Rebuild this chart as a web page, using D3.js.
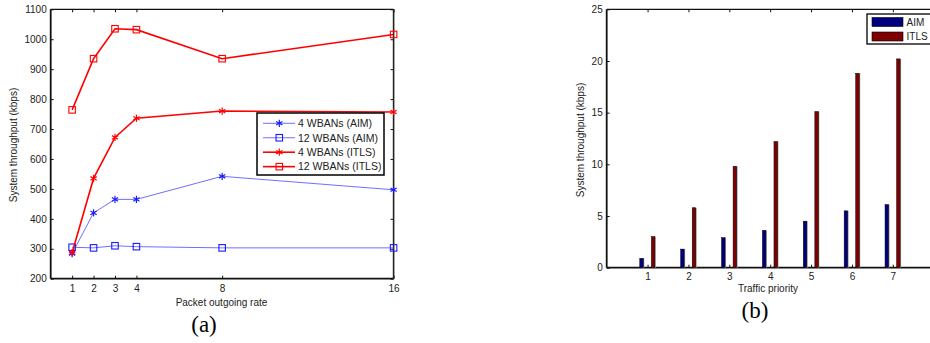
<!DOCTYPE html>
<html>
<head>
<meta charset="utf-8">
<script src="https://cdn.jsdelivr.net/npm/d3@7"></script>
<style>
  html, body { margin: 0; padding: 0; background: #fff; }
  svg { display: block; }
  .tick text { font-family: "Liberation Sans", Arial, sans-serif; font-size: 10px; fill: #222; }
  .lbl { font-family: "Liberation Sans", Arial, sans-serif; font-size: 10px; fill: #222; }
  .cap { font-family: "Liberation Serif", "Times New Roman", serif; font-size: 23px; fill: #000; }
</style>
</head>
<body>
<svg id="fig" width="930" height="343"></svg>
<script>
// Panel (a): throughput vs. packet outgoing rate
const rates = [1, 2, 3, 4, 8, 16];
const aim4 = [284, 420, 465, 465, 542, 497];
const aim12 = [305, 303, 310, 307, 303, 303];
const itls4 = [287, 535, 672, 736, 760, 757];
const itls12 = [764, 935, 1035, 1032, 935, 1016];
const yTicksA = [200, 300, 400, 500, 600, 700, 800, 900, 1000, 1100];
const seriesNamesA = ["4 WBANs (AIM)", "12 WBANs (AIM)", "4 WBANs (ITLS)", "12 WBANs (ITLS)"];

// Panel (b): throughput per traffic priority
const priorities = [1, 2, 3, 4, 5, 6, 7];
const aimB = [0.9, 1.8, 2.9, 3.6, 4.5, 5.5, 6.1];
const itlsB = [3.0, 5.8, 9.8, 12.2, 15.1, 18.8, 20.2];
const yTicksB = [0, 5, 10, 15, 20, 25];
const seriesNamesB = ["AIM", "ITLS"];

const svg = d3.select("#fig");
const plain = d3.format("d");

// ---------- helpers ----------
function asterisk(g, x, y, r, color, w) {
  for (let k = 0; k < 3; k++) {
    const a = Math.PI / 2 + k * Math.PI / 3;
    g.append("line")
      .attr("x1", x - r * Math.cos(a)).attr("y1", y - r * Math.sin(a))
      .attr("x2", x + r * Math.cos(a)).attr("y2", y + r * Math.sin(a))
      .attr("stroke", color).attr("stroke-width", w);
  }
}
function square(g, x, y, s, color, w) {
  g.append("rect")
    .attr("x", x - s / 2).attr("y", y - s / 2)
    .attr("width", s).attr("height", s)
    .attr("fill", "none").attr("stroke", color).attr("stroke-width", w);
}
function styleAxis(g) {
  g.select(".domain").remove();
  g.selectAll(".tick line").attr("stroke", "#111").attr("stroke-width", 1);
}

// ---------- panel (a) ----------
const xA = d3.scaleLinear().domain([0, 16]).range([50.7, 393.6]);
const yA = d3.scaleLinear().domain([200, 1100]).range([278.7, 9.3]);
const gA = svg.append("g");

gA.append("g").attr("transform", `translate(${xA.range()[0]},0)`)
  .call(d3.axisLeft(yA).tickValues(yTicksA).tickFormat(plain).tickSize(-3).tickPadding(4).tickSizeOuter(0))
  .call(styleAxis);
gA.append("g").attr("transform", `translate(0,${yA.range()[0]})`)
  .call(d3.axisBottom(xA).tickValues(rates).tickFormat(plain).tickSize(-3).tickPadding(6).tickSizeOuter(0))
  .call(styleAxis);
gA.append("g").attr("transform", `translate(0,${yA.range()[1]})`)
  .call(d3.axisTop(xA).tickValues(rates).tickSize(-3).tickFormat("").tickSizeOuter(0))
  .call(styleAxis);
gA.append("g").attr("transform", `translate(${xA.range()[1]},0)`)
  .call(d3.axisRight(yA).tickValues(yTicksA).tickSize(-3).tickFormat("").tickSizeOuter(0))
  .call(styleAxis);

// frame
gA.append("line").attr("x1", xA.range()[0]).attr("x2", xA.range()[1]).attr("y1", yA.range()[1]).attr("y2", yA.range()[1]).attr("stroke", "#111").attr("stroke-width", 1.2);
gA.append("line").attr("x1", xA.range()[0]).attr("x2", xA.range()[1]).attr("y1", yA.range()[0]).attr("y2", yA.range()[0]).attr("stroke", "#111").attr("stroke-width", 1.8);
gA.append("line").attr("x1", xA.range()[0]).attr("x2", xA.range()[0]).attr("y1", yA.range()[1]).attr("y2", yA.range()[0]).attr("stroke", "#111").attr("stroke-width", 1.8);
gA.append("line").attr("x1", xA.range()[1]).attr("x2", xA.range()[1]).attr("y1", yA.range()[1]).attr("y2", yA.range()[0]).attr("stroke", "#222").attr("stroke-width", 1.6);

const lineA = d3.line().x((d, i) => xA(rates[i])).y(d => yA(d));
const seriesA = [
  { vals: aim4, color: "#4a4aff", w: 0.8, mark: "star" },
  { vals: aim12, color: "#4a4aff", w: 0.8, mark: "sq" },
  { vals: itls4, color: "#ff0000", w: 1.6, mark: "star" },
  { vals: itls12, color: "#ff0000", w: 1.6, mark: "sq" }
];
seriesA.forEach(s => {
  gA.append("path").attr("d", lineA(s.vals)).attr("fill", "none")
    .attr("stroke", s.color).attr("stroke-width", s.w);
  s.vals.forEach((v, i) => {
    const mc = s.color === "#ff0000" ? "#ff0000" : "#1a1aff";
    if (s.mark === "star") asterisk(gA, xA(rates[i]), yA(v), 3.6, mc, 1.2);
    else square(gA, xA(rates[i]), yA(v), 6.5, mc, 1.1);
  });
});

// legend (a)
const legA = gA.append("g");
legA.append("rect").attr("x", 257).attr("y", 113).attr("width", 127).attr("height", 62)
  .attr("fill", "#fff").attr("stroke", "#000").attr("stroke-width", 1.5);
seriesA.forEach((s, i) => {
  const yy = 123.3 + i * 14.45;
  legA.append("line").attr("x1", 263).attr("x2", 295).attr("y1", yy).attr("y2", yy)
    .attr("stroke", s.color).attr("stroke-width", s.w);
  const mc = s.color === "#ff0000" ? "#ff0000" : "#1a1aff";
  if (s.mark === "star") asterisk(legA, 279.3, yy, 3.6, mc, 1.2);
  else square(legA, 279.3, yy, 6.5, mc, 1.1);
  legA.append("text").attr("class", "lbl").attr("x", 298).attr("y", yy + 3.8)
    .style("font-size", "10.5px").text(seriesNamesA[i]);
});

gA.append("text").attr("class", "lbl").attr("transform", "translate(17,145) rotate(-90)")
  .attr("text-anchor", "middle").text("System throughput (kbps)");
gA.append("text").attr("class", "lbl").attr("x", 221.5).attr("y", 305.5)
  .attr("text-anchor", "middle").text("Packet outgoing rate");
gA.append("text").attr("class", "cap").attr("x", 204).attr("y", 332)
  .attr("text-anchor", "middle").text("(a)");

// ---------- panel (b) ----------
const xB = d3.scaleLinear().domain([0, 8]).range([606.7, 933.7]);
const yB = d3.scaleLinear().domain([0, 25]).range([267.7, 9.3]);
const gB = svg.append("g");

gB.append("g").attr("transform", `translate(${xB.range()[0]},0)`)
  .call(d3.axisLeft(yB).tickValues(yTicksB).tickFormat(plain).tickSize(-3).tickPadding(4).tickSizeOuter(0))
  .call(styleAxis);
gB.append("g").attr("transform", `translate(0,${yB.range()[0]})`)
  .call(d3.axisBottom(xB).tickValues(priorities).tickFormat(plain).tickSize(-3).tickPadding(5).tickSizeOuter(0))
  .call(styleAxis);
gB.append("g").attr("transform", `translate(0,${yB.range()[1]})`)
  .call(d3.axisTop(xB).tickValues(priorities).tickSize(-3).tickFormat("").tickSizeOuter(0))
  .call(styleAxis);

gB.append("line").attr("x1", xB.range()[0]).attr("x2", xB.range()[1]).attr("y1", yB.range()[1]).attr("y2", yB.range()[1]).attr("stroke", "#111").attr("stroke-width", 1.2);
gB.append("line").attr("x1", xB.range()[0]).attr("x2", xB.range()[1]).attr("y1", yB.range()[0]).attr("y2", yB.range()[0]).attr("stroke", "#111").attr("stroke-width", 1.8);
gB.append("line").attr("x1", xB.range()[0]).attr("x2", xB.range()[0]).attr("y1", yB.range()[1]).attr("y2", yB.range()[0]).attr("stroke", "#111").attr("stroke-width", 1.8);

// grouped bars: offset within each priority group, in data units
const offset = d3.scaleOrdinal().domain(seriesNamesB).range([-0.148, 0.135]);
const barW = 0.085;
const barsB = [
  { name: "AIM", vals: aimB, color: "#00007f" },
  { name: "ITLS", vals: itlsB, color: "#7f0000" }
];
barsB.forEach(s => {
  const g = gB.append("g");
  s.vals.forEach((v, i) => {
    const x0 = xB(priorities[i] + offset(s.name) - barW / 2);
    const w = xB(barW) - xB(0);
    g.append("rect").attr("x", x0 + 1).attr("y", yB(v))
      .attr("width", w).attr("height", yB(0) - yB(v)).attr("fill", "#999");
    g.append("rect").attr("x", x0).attr("y", yB(v))
      .attr("width", w).attr("height", yB(0) - yB(v))
      .attr("fill", s.color).attr("stroke", "#000").attr("stroke-width", 0.5);
  });
});

// legend (b)
const legB = gB.append("g");
legB.append("rect").attr("x", 867).attr("y", 14).attr("width", 66).attr("height", 30)
  .attr("fill", "#fff").attr("stroke", "#000").attr("stroke-width", 1.3);
barsB.forEach((s, i) => {
  const yy = 17.5 + i * 14.5;
  legB.append("rect").attr("x", 872).attr("y", yy).attr("width", 31).attr("height", 9)
    .attr("fill", s.color).attr("stroke", "#000").attr("stroke-width", 0.6);
  legB.append("text").attr("class", "lbl").attr("x", 906.5).attr("y", yy + 8)
    .text(seriesNamesB[i]);
});

gB.append("text").attr("class", "lbl").attr("transform", "translate(584,140) rotate(-90)")
  .attr("text-anchor", "middle").text("System throughput (kbps)");
gB.append("text").attr("class", "lbl").attr("x", 768).attr("y", 292)
  .attr("text-anchor", "middle").text("Traffic priority");
gB.append("text").attr("class", "cap").attr("x", 755).attr("y", 318)
  .attr("text-anchor", "middle").text("(b)");
</script>
</body>
</html>
